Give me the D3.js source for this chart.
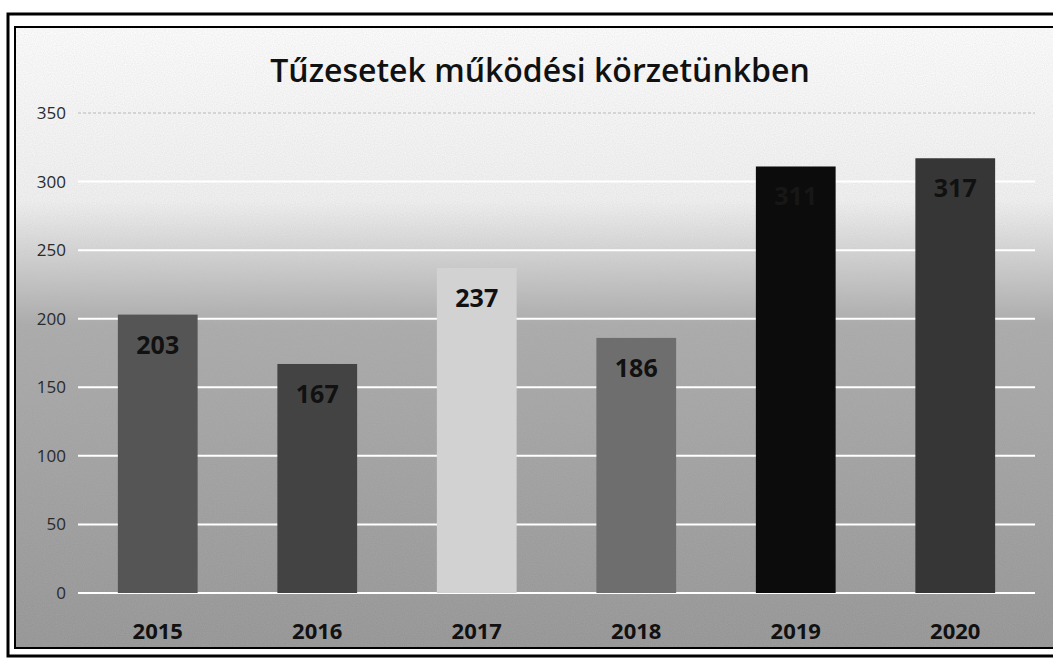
<!DOCTYPE html>
<html>
<head>
<meta charset="utf-8">
<script src="https://cdn.jsdelivr.net/npm/d3@7"></script>
<style>
  html, body { margin: 0; padding: 0; background: #fff; }
  svg { display: block; }
</style>
</head>
<body>
<svg id="chart"></svg>
<script>
// Tűzesetek működési körzetünkben — yearly fire counts
const years  = ['2015', '2016', '2017', '2018', '2019', '2020'];
const values = [203, 167, 237, 186, 311, 317];
const barFills   = ['#555555', '#434343', '#d2d2d2', '#6e6e6e', '#0c0c0c', '#363636'];
const labelFills = ['#111', '#111', '#111', '#111', '#171717', '#111'];
const yTicks = [0, 50, 100, 150, 200, 250, 300, 350];
const title  = 'Tűzesetek működési körzetünkben';

const W = 1053, H = 662;
const svg = d3.select('#chart').attr('width', W).attr('height', H);

// plot frame
const plot = { left: 78, right: 1035, top: 113, bottom: 593 };

const x = d3.scaleBand().domain(years)
  .range([plot.left, plot.right]).paddingInner(0.5).paddingOuter(0.25);
const y = d3.scaleLinear().domain([0, 350]).range([plot.bottom, plot.top]);

// Background gradient (white top fading to grey)
const defs = svg.append('defs');
const grad = defs.append('linearGradient').attr('id', 'bg')
  .attr('x1', 0).attr('y1', 0).attr('x2', 0).attr('y2', 1);
grad.append('stop').attr('offset', '0%').attr('stop-color', '#ffffff');
grad.append('stop').attr('offset', '28%').attr('stop-color', '#f2f2f2');
grad.append('stop').attr('offset', '48%').attr('stop-color', '#a9a9a9');
grad.append('stop').attr('offset', '100%').attr('stop-color', '#939393');

// grain to mimic the scan
const grain = defs.append('filter').attr('id', 'grain')
  .attr('x', 0).attr('y', 0).attr('width', '100%').attr('height', '100%');
grain.append('feTurbulence').attr('type', 'fractalNoise')
  .attr('baseFrequency', 0.9).attr('numOctaves', 1).attr('seed', 3).attr('result', 'n');
grain.append('feColorMatrix').attr('in', 'n').attr('type', 'matrix')
  .attr('values', '0 0 0 0 0.5  0 0 0 0 0.5  0 0 0 0 0.5  0 0 0 0.35 -0.05')
  .attr('result', 'g');
grain.append('feComposite').attr('in', 'g').attr('in2', 'SourceGraphic').attr('operator', 'in');

svg.append('rect').attr('x', 15).attr('y', 27).attr('width', W - 15).attr('height', 621)
  .attr('fill', 'url(#bg)');
svg.append('rect').attr('x', 15).attr('y', 27).attr('width', W - 15).attr('height', 621)
  .attr('fill', '#000').attr('filter', 'url(#grain)');

// Gridlines
svg.append('g').selectAll('line').data(yTicks).join('line')
  .attr('x1', plot.left).attr('x2', plot.right)
  .attr('y1', d => y(d)).attr('y2', d => y(d))
  .attr('stroke', d => d === 350 ? '#b8b8b8' : '#ffffff')
  .attr('stroke-width', d => d === 350 ? 1 : 2)
  .attr('stroke-dasharray', d => d === 350 ? '3,2' : null);

// Y axis labels
const yAxis = svg.append('g').attr('transform', `translate(${plot.left - 10},0)`)
  .call(d3.axisLeft(y).tickValues(yTicks).tickSize(0).tickPadding(2));
yAxis.select('.domain').remove();
yAxis.selectAll('text')
  .attr('font-family', 'Open Sans, sans-serif').attr('font-size', 17)
  .attr('fill', '#2a2a2a');

// Bars
svg.append('g').selectAll('rect').data(values).join('rect')
  .attr('x', (d, i) => x(years[i]))
  .attr('width', x.bandwidth())
  .attr('y', d => y(d))
  .attr('height', d => y(0) - y(d))
  .attr('fill', (d, i) => barFills[i]);

// Value labels inside bars
svg.append('g').selectAll('text').data(values).join('text')
  .attr('x', (d, i) => x(years[i]) + x.bandwidth() / 2)
  .attr('y', d => y(d) + 39)
  .attr('text-anchor', 'middle')
  .attr('font-family', 'Open Sans, sans-serif')
  .attr('font-weight', 700).attr('font-size', 25)
  .attr('fill', (d, i) => labelFills[i])
  .text(d => d);

// X axis labels
const xAxis = svg.append('g').attr('transform', `translate(0,${plot.bottom})`)
  .call(d3.axisBottom(x).tickSize(0).tickPadding(30));
xAxis.select('.domain').remove();
xAxis.selectAll('text')
  .attr('font-family', 'Open Sans, sans-serif').attr('font-weight', 700)
  .attr('font-size', 22).attr('fill', '#111');

// Title
svg.append('text').attr('x', 540).attr('y', 82)
  .attr('text-anchor', 'middle')
  .attr('font-family', 'Open Sans, sans-serif').attr('font-weight', 600)
  .attr('font-size', 32).attr('fill', '#111')
  .text(title);

// Double frame border
svg.append('rect').attr('x', 8).attr('y', 14).attr('width', W + 10).attr('height', 642)
  .attr('fill', 'none').attr('stroke', '#000').attr('stroke-width', 3);
svg.append('rect').attr('x', 15).attr('y', 27).attr('width', W + 10).attr('height', 621)
  .attr('fill', 'none').attr('stroke', '#000').attr('stroke-width', 2);
</script>
</body>
</html>
